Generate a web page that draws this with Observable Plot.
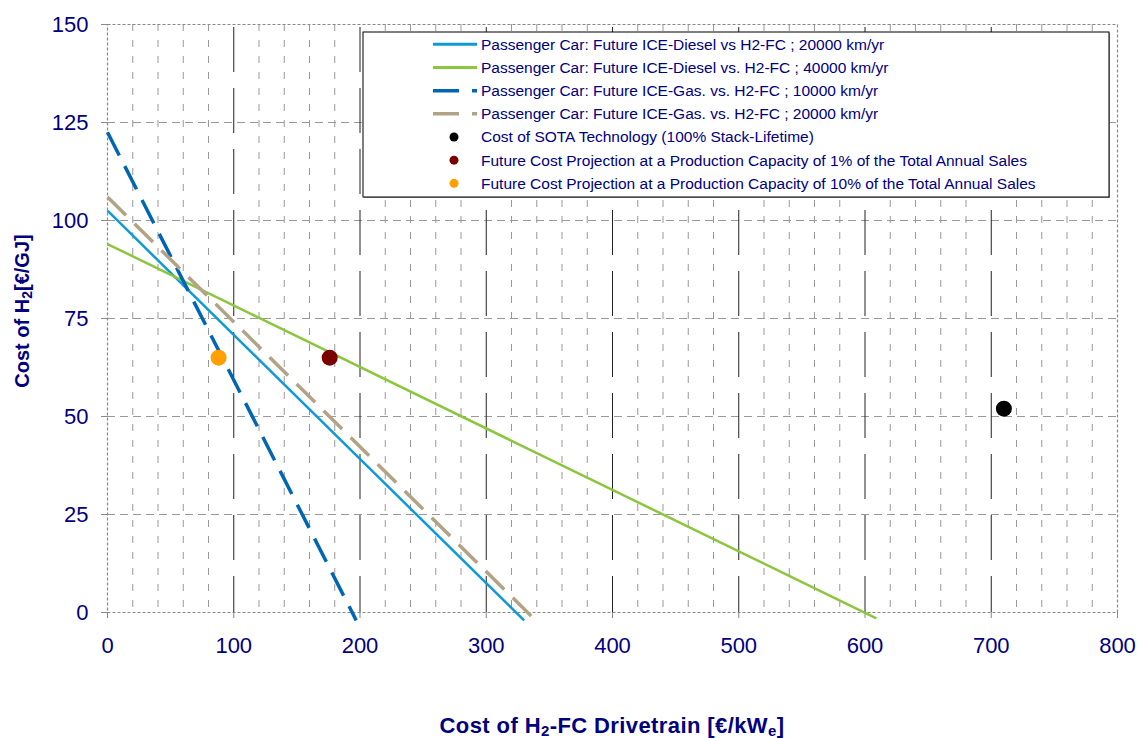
<!DOCTYPE html>
<html><head><meta charset="utf-8">
<script src="https://cdn.jsdelivr.net/npm/d3@7"></script>
<script src="https://cdn.jsdelivr.net/npm/@observablehq/plot@0.6"></script>
<style>body{margin:0;background:#fff} #chart{width:1138px;height:738px}</style>
</head><body><div id="chart"></div>
<script>
// ---- data ----
const seriesLabels = [
  "Passenger Car: Future ICE-Diesel vs H2-FC ; 20000 km/yr",
  "Passenger Car: Future ICE-Diesel vs. H2-FC ; 40000 km/yr",
  "Passenger Car: Future ICE-Gas. vs. H2-FC ; 10000 km/yr",
  "Passenger Car: Future ICE-Gas. vs. H2-FC ; 20000 km/yr"
];
const seriesColors = ["#0E9AD7", "#8CC63E", "#0066B3", "#B2A386"];
const seriesDashed = [false, false, true, true];
const seriesX = [[0, 330], [0, 609], [0, 197], [0, 339]];
const seriesY = [[102.5, -2], [94, -1.5], [122.5, -2], [106, -2]];

const pointLabels = [
  "Cost of SOTA Technology (100% Stack-Lifetime)",
  "Future Cost Projection at a Production Capacity of 1% of the Total Annual Sales",
  "Future Cost Projection at a Production Capacity of 10% of the Total Annual Sales"
];
const pointColors = ["#000000", "#7B0000", "#FF9F00"];
const pointX = [710, 176, 88];
const pointY = [52, 65, 65];

const xTicks = [0, 100, 200, 300, 400, 500, 600, 700, 800];
const yTicks = [0, 25, 50, 75, 100, 125, 150];
const xMinor = d3.range(20, 800, 20).filter(v => v % 100 !== 0);

// ---- build ----
const navy = "#000080";
const font = "'Liberation Sans', Arial, sans-serif";

const lineMarks = seriesLabels.map((name, i) => {
  const rows = seriesX[i].map((x, j) => ({x, y: seriesY[i][j]}));
  return Plot.line(rows, {
    x: "x", y: "y", stroke: seriesColors[i],
    strokeWidth: seriesDashed[i] ? 3.5 : 2.5,
    strokeDasharray: seriesDashed[i] ? "26,12" : null,
    strokeLinecap: "butt"
  });
});
const points = pointLabels.map((name, i) => ({name, x: pointX[i], y: pointY[i], c: pointColors[i]}));

const chart = Plot.plot({
  width: 1138, height: 738,
  marginTop: 24, marginRight: 21, marginBottom: 126, marginLeft: 107,
  style: {fontFamily: font, fontSize: "22px", background: "white", overflow: "visible"},
  x: {domain: [0, 800], label: null},
  y: {domain: [0, 150], label: null},
  marks: [
    Plot.ruleY(yTicks.filter(v => v > 0 && v < 150), {stroke: "#999", strokeWidth: 1, strokeDasharray: "8,5"}),
    Plot.ruleX(xMinor, {stroke: "#999", strokeWidth: 1, strokeDasharray: "7,9"}),
    Plot.ruleX(xTicks.filter(v => v > 0 && v < 800), {stroke: "#222", strokeWidth: 1, strokeDasharray: "45,16", strokeDashoffset: 58}),
    Plot.frame({stroke: "#888", strokeWidth: 1.2, strokeDasharray: "3,2"}),
    Plot.axisX({ticks: xTicks, tickSize: 6, tickPadding: 19, stroke: "#888", fill: navy, fontSize: 22, label: null}),
    Plot.axisY({ticks: yTicks, tickSize: 6, tickPadding: 13, stroke: "#888", fill: navy, fontSize: 22, label: null}),
    ...lineMarks,
    Plot.dot(points, {x: "x", y: "y", fill: "c", r: 8, stroke: null})
  ]
});
document.getElementById("chart").appendChild(chart);

const svg = d3.select(chart);

// axis titles with subscripts
const xt = svg.append("text")
  .attr("x", 612).attr("y", 733).attr("text-anchor", "middle")
  .attr("font-family", font).attr("font-size", 22).attr("letter-spacing", 0.4)
  .attr("font-weight", "bold").attr("fill", navy);
xt.append("tspan").text("Cost of H");
xt.append("tspan").attr("font-size", 15).attr("dy", 3).text("2");
xt.append("tspan").attr("dy", -3).text("-FC Drivetrain [€/kW");
xt.append("tspan").attr("font-size", 15).attr("dy", 3).text("e");
xt.append("tspan").attr("dy", -3).text("]");

const yt = svg.append("text")
  .attr("transform", "translate(29,311) rotate(-90)").attr("text-anchor", "middle")
  .attr("font-family", font).attr("font-size", 20).attr("font-weight", "bold").attr("fill", navy);
yt.append("tspan").text("Cost of H");
yt.append("tspan").attr("font-size", 14).attr("dy", 3).text("2");
yt.append("tspan").attr("dy", -3).text("[€/GJ]");

// legend
const lg = svg.append("g").attr("text-anchor", "start");
lg.append("rect").attr("x", 364).attr("y", 33).attr("width", 746).attr("height", 165).attr("fill", "#999");
lg.append("rect").attr("x", 363).attr("y", 32).attr("width", 746).attr("height", 165)
  .attr("fill", "white").attr("stroke", "#000").attr("stroke-width", 1);
const rowY = i => 44.3 + i * 23.17;
seriesLabels.forEach((name, i) => {
  lg.append("line").attr("x1", 433).attr("x2", 477).attr("y1", rowY(i)).attr("y2", rowY(i))
    .attr("stroke", seriesColors[i]).attr("stroke-width", seriesDashed[i] ? 3.5 : 3)
    .attr("stroke-dasharray", seriesDashed[i] ? "26,13" : null);
  lg.append("text").attr("x", 481).attr("y", rowY(i)).attr("dy", "0.35em").attr("text-anchor", "start")
    .attr("font-family", font).attr("font-size", 15.5).attr("fill", navy).text(name);
});
pointLabels.forEach((name, k) => {
  const i = k + seriesLabels.length;
  lg.append("circle").attr("cx", 454).attr("cy", rowY(i)).attr("r", 4.5).attr("fill", pointColors[k]);
  lg.append("text").attr("x", 481).attr("y", rowY(i)).attr("dy", "0.35em").attr("text-anchor", "start")
    .attr("font-family", font).attr("font-size", 15.5).attr("fill", navy).text(name);
});
</script>
</body></html>
